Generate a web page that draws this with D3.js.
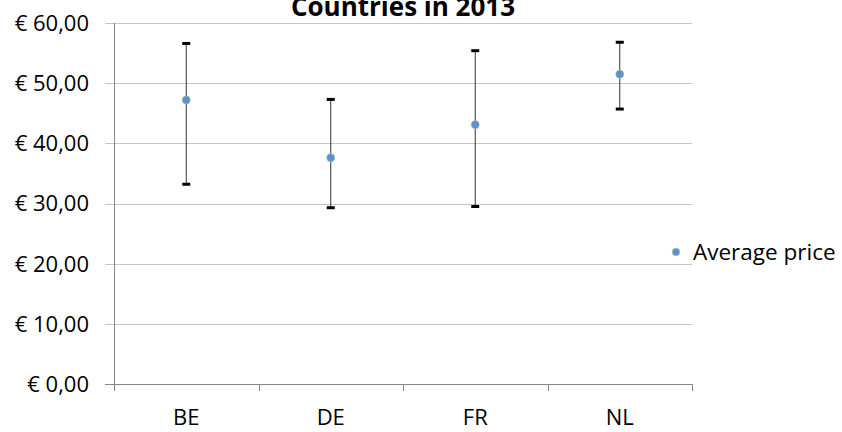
<!DOCTYPE html>
<html>
<head>
<meta charset="utf-8">
<script src="https://cdn.jsdelivr.net/npm/d3@7"></script>
<style>
  html, body { margin: 0; padding: 0; background: #fff; }
  svg { display: block; }
  text { font-family: "Open Sans", "Noto Sans", sans-serif; fill: #000; }
</style>
</head>
<body>
<svg id="chart" width="842" height="432"></svg>
<script>
// Average, minimum and maximum price per country (EUR)
const categories = ["BE", "DE", "FR", "NL"];
const avgPrice = [47.2, 37.6, 43.1, 51.5];
const lowPrice = [33.2, 29.3, 29.5, 45.7];
const highPrice = [56.6, 47.3, 55.4, 56.8];
const yTicks = [0, 10, 20, 30, 40, 50, 60];
const seriesName = "Average price";
const titleText = "Countries in 2013";

const svg = d3.select("#chart");
const plot = { left: 114, right: 692, top: 23, bottom: 384 };

const x = d3.scaleBand().domain(categories).range([plot.left, plot.right]).padding(0);
const y = d3.scaleLinear().domain([0, 60]).range([plot.bottom, plot.top]);

const euro = d => "€ " + d3.format(".2f")(d).replace(".", ",");

// horizontal gridlines (extend left past the axis as tick marks)
svg.append("g")
  .selectAll("line")
  .data(yTicks.filter(d => d > 0))
  .join("line")
  .attr("x1", plot.left - 9)
  .attr("x2", plot.right)
  .attr("y1", d => Math.round(y(d)) + 0.5)
  .attr("y2", d => Math.round(y(d)) + 0.5)
  .attr("stroke", "#c6c6c6")
  .attr("stroke-width", 1);

// y axis labels
svg.append("g")
  .selectAll("text")
  .data(yTicks)
  .join("text")
  .attr("x", 89)
  .attr("y", d => y(d))
  .attr("dy", "0.36em")
  .attr("text-anchor", "end")
  .style("font-size", "22px")
  .text(euro);

// axes
const axisColor = "#878787";
svg.append("line")
  .attr("x1", plot.left + 0.5).attr("x2", plot.left + 0.5)
  .attr("y1", plot.top).attr("y2", plot.bottom)
  .attr("stroke", axisColor);
svg.append("line")
  .attr("x1", plot.left - 9).attr("x2", plot.right)
  .attr("y1", plot.bottom + 0.5).attr("y2", plot.bottom + 0.5)
  .attr("stroke", axisColor);

// category boundary ticks below the x axis
const bounds = categories.map(c => x(c)).concat([plot.right]);
svg.append("g")
  .selectAll("line")
  .data(bounds)
  .join("line")
  .attr("x1", d => Math.round(d) + 0.5)
  .attr("x2", d => Math.round(d) + 0.5)
  .attr("y1", plot.bottom)
  .attr("y2", plot.bottom + 7)
  .attr("stroke", axisColor);

// x axis labels
svg.append("g")
  .selectAll("text")
  .data(categories)
  .join("text")
  .attr("x", d => x(d) + x.bandwidth() / 2)
  .attr("y", 425)
  .attr("text-anchor", "middle")
  .style("font-size", "22px")
  .text(d => d);

// error bars: low to high range
const rows = categories.map((c, i) => ({ c, avg: avgPrice[i], lo: lowPrice[i], hi: highPrice[i] }));
const cx = d => x(d.c) + x.bandwidth() / 2;

const bars = svg.append("g");
bars.selectAll("line.stem")
  .data(rows)
  .join("line")
  .attr("class", "stem")
  .attr("x1", cx).attr("x2", cx)
  .attr("y1", d => y(d.hi)).attr("y2", d => y(d.lo))
  .attr("stroke", "#333")
  .attr("stroke-width", 1);

["hi", "lo"].forEach(k => {
  bars.selectAll("line.cap-" + k)
    .data(rows)
    .join("line")
    .attr("class", "cap-" + k)
    .attr("x1", d => cx(d) - 4).attr("x2", d => cx(d) + 4)
    .attr("y1", d => y(d[k])).attr("y2", d => y(d[k]))
    .attr("stroke", "#000")
    .attr("stroke-width", 3);
});

// average price markers
svg.append("g")
  .selectAll("circle")
  .data(rows)
  .join("circle")
  .attr("cx", cx)
  .attr("cy", d => y(d.avg))
  .attr("r", 4)
  .attr("fill", "#5b8fd6")
  .attr("stroke", "#a6c27a")
  .attr("stroke-width", 0.6);

// title (its upper part runs past the top edge)
svg.append("text")
  .attr("x", (plot.left + plot.right) / 2)
  .attr("y", 16)
  .attr("text-anchor", "middle")
  .style("font-size", "26px")
  .style("font-weight", "bold")
  .text(titleText);

// legend
const legend = svg.append("g").attr("transform", "translate(676,252)");
legend.append("circle")
  .attr("r", 3.8)
  .attr("fill", "#5b8fd6")
  .attr("stroke", "#a6c27a")
  .attr("stroke-width", 0.6);
legend.append("text")
  .attr("x", 17)
  .attr("y", 0)
  .attr("dy", "0.36em")
  .style("font-size", "22.5px")
  .text(seriesName);
</script>
</body>
</html>
